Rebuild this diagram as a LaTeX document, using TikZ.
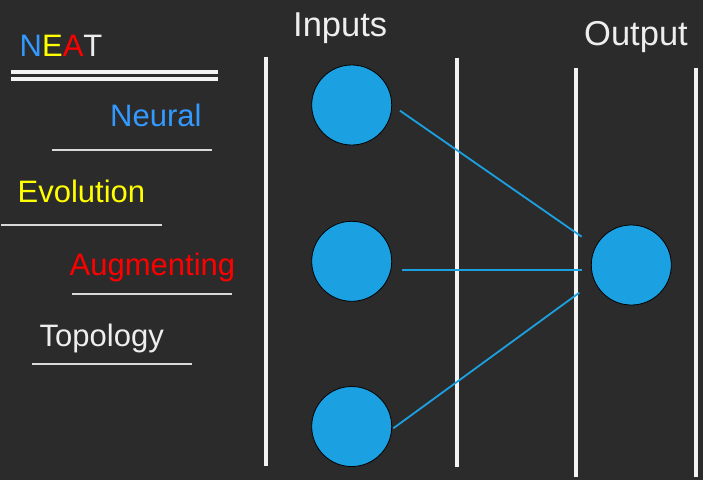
\documentclass[tikz,border=0pt]{standalone}
\usepackage{fontspec}
\setmainfont{Liberation Sans}
\definecolor{bg}{HTML}{2B2B2B}
\definecolor{nblue}{HTML}{3399FF}
\definecolor{nyellow}{HTML}{FFFF00}
\definecolor{nred}{HTML}{FF0000}
\definecolor{nwhite}{HTML}{EEEEEE}
\definecolor{rule}{HTML}{F2F2F2}
\definecolor{ulcol}{HTML}{D9D9D9}
\definecolor{neuron}{HTML}{1BA1E2}
\definecolor{wire}{HTML}{1BA1E2}
\tikzset{
  lbl/.style={inner sep=0pt, anchor=base west, font=\fontsize{31}{36}\selectfont},
  head/.style={inner sep=0pt, anchor=base west, text=nwhite, font=\fontsize{34.5}{40}\selectfont},
  uline/.style={draw=ulcol, line width=2pt},
  dline/.style={draw=rule, line width=3.4pt},
  vline/.style={draw=rule, line width=3.8pt},
  neur/.style={circle, fill=neuron, draw=black, line width=0.8pt, minimum size=80pt, inner sep=0pt},
  conn/.style={draw=wire, line width=1.8pt}
}
\begin{document}
\begin{tikzpicture}[x=1pt,y=-1pt]
\fill[bg] (0,0) rectangle (703,480);
\useasboundingbox (0,0) rectangle (703,480);

% left title and words
\node[lbl] (neat) at (19.5,56) {\textcolor{nblue}{N}\textcolor{nyellow}{E}\textcolor{nred}{A}\textcolor{nwhite}{T}};
\draw[dline] (11,72) -- (218,72);
\draw[dline] (11,79) -- (218,79);

\node[lbl, text=nblue] (neural) at (110,126) {Neural};
\draw[uline] (52,150.3) -- (212,150.3);

\node[lbl, text=nyellow] (evolution) at (17.5,202.7) {Evolution};
\draw[uline] (1,224.7) -- (162,224.7);

\node[lbl, text=nred] (augmenting) at (69.5,275.7) {Augmenting};
\draw[uline] (72,294.3) -- (232,294.3);

\node[lbl, text=nwhite] (topology) at (39.5,346.7) {Topology};
\draw[uline] (32,364.3) -- (192,364.3);

% headers
\node[head] (inputs) at (293,36.7) {Inputs};
\node[head] (output) at (584,45) {Output};

% vertical separators
\draw[vline] (266,56.7) -- (266,466);
\draw[vline] (456.7,57.7) -- (456.7,467);
\draw[vline] (576.3,67.7) -- (576.3,477.3);
\draw[vline] (696.3,67.7) -- (696.3,477.3);

% neurons
\node[neur] (in1) at (351.7,105) {};
\node[neur] (in2) at (351.7,261.3) {};
\node[neur] (in3) at (351.7,426.5) {};
\node[neur] (out) at (631.3,265) {};

% connectors
\coordinate (s1) at (400,110.7);
\coordinate (e1) at (581.7,236.7);
\coordinate (s2) at (401.7,270.3);
\coordinate (e2) at (581.7,270.3);
\coordinate (s3) at (393.3,428.3);
\coordinate (e3) at (579.3,292.7);
\draw[conn] (s1) -- (e1);
\draw[conn] (s2) -- (e2);
\draw[conn] (s3) -- (e3);
\end{tikzpicture}
\end{document}
